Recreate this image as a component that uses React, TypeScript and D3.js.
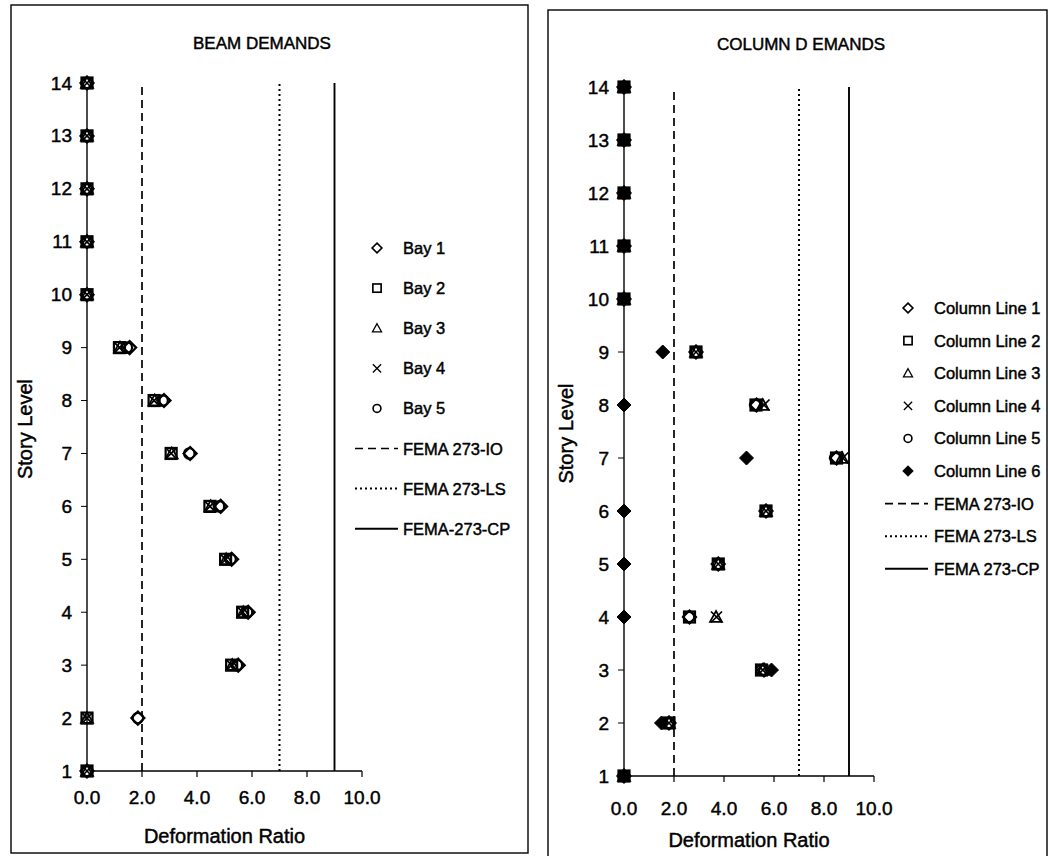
import React from "react";
import * as d3 from "d3";

const stories = [1, 2, 3, 4, 5, 6, 7, 8, 9, 10, 11, 12, 13, 14];
const xTicks = [0, 2, 4, 6, 8, 10];

// Beam demands (deformation ratio per story 1..14)
const bay1 = [0, 1.85, 5.5, 5.86, 5.26, 4.86, 3.75, 2.8, 1.55, 0, 0, 0, 0, 0];
const bay2 = [0, 0, 5.26, 5.66, 5.04, 4.47, 3.06, 2.44, 1.18, 0, 0, 0, 0, 0];
const bay3 = [0, 0, 5.28, 5.68, 5.06, 4.5, 3.08, 2.46, 1.2, 0, 0, 0, 0, 0];
const bay4 = [0, 0, 5.26, 5.66, 5.04, 4.47, 3.06, 2.44, 1.18, 0, 0, 0, 0, 0];
const bay5 = [0, 1.85, 5.45, 5.82, 5.22, 4.8, 3.72, 2.75, 1.45, 0, 0, 0, 0, 0];

// Column demands
const col1 = [0, 1.8, 5.6, 2.62, 3.77, 5.68, 8.5, 5.3, 2.88, 0, 0, 0, 0, 0];
const col2 = [0, 1.8, 5.5, 2.62, 3.77, 5.68, 8.5, 5.28, 2.88, 0, 0, 0, 0, 0];
const col3 = [0, 1.8, 5.55, 3.68, 3.77, 5.68, 8.72, 5.55, 2.88, 0, 0, 0, 0, 0];
const col4 = [0, 1.8, 5.55, 3.7, 3.77, 5.68, 8.75, 5.6, 2.88, 0, 0, 0, 0, 0];
const col5 = [0, 1.8, 5.5, 2.6, 3.77, 5.68, 8.45, 5.25, 2.88, 0, 0, 0, 0, 0];
const col6 = [0, 1.5, 5.9, 0, 0, 0, 4.9, 0, 1.55, 0, 0, 0, 0, 0];

const limitIO = 2;
const limitLS = 7;
const limitCP = 9;

const beamNames = ["Bay 1", "Bay 2", "Bay 3", "Bay 4", "Bay 5"];
const colNames = ["Column Line 1", "Column Line 2", "Column Line 3", "Column Line 4", "Column Line 5", "Column Line 6"];
const limitNamesL = ["FEMA 273-IO", "FEMA 273-LS", "FEMA-273-CP"];
const limitNamesR = ["FEMA 273-IO", "FEMA 273-LS", "FEMA 273-CP"];

const FONT = "'Liberation Sans', Arial, sans-serif";
const TS = 0.45; // text stroke to mimic heavy scanned print

type Shape = "diamond" | "square" | "triangle" | "x" | "circle" | "fdiamond";

function Marker({ shape, x, y, s = 1 }: { shape: Shape; x: number; y: number; s?: number }) {
  const sw = 2.2 * s;
  switch (shape) {
    case "diamond": {
      const r = 6.5 * s;
      return <path d={`M${x},${y - r}L${x + r},${y}L${x},${y + r}L${x - r},${y}Z`} fill="white" stroke="black" strokeWidth={sw} />;
    }
    case "fdiamond": {
      const r = 7 * s;
      return <path d={`M${x},${y - r}L${x + r},${y}L${x},${y + r}L${x - r},${y}Z`} fill="black" stroke="black" strokeWidth={1} />;
    }
    case "square": {
      const h = 5.5 * s;
      return <rect x={x - h} y={y - h} width={2 * h} height={2 * h} fill="none" stroke="black" strokeWidth={sw} />;
    }
    case "triangle": {
      const h = 6 * s;
      return <path d={`M${x},${y - h}L${x + h},${y + h * 0.8}L${x - h},${y + h * 0.8}Z`} fill="none" stroke="black" strokeWidth={sw * 0.8} />;
    }
    case "x": {
      const h = 5.5 * s;
      return <path d={`M${x - h},${y - h}L${x + h},${y + h}M${x - h},${y + h}L${x + h},${y - h}`} stroke="black" strokeWidth={sw * 0.8} />;
    }
    case "circle":
      return <circle cx={x} cy={y} r={5.2 * s} fill="none" stroke="black" strokeWidth={sw} />;
  }
  return null;
}

type Panel = {
  title: string;
  titleX: number;
  titleY: number;
  box: [number, number, number, number];
  xr: [number, number];
  yr: [number, number];
  tickLabelY: number;
  xLabelY: number;
  yLabelX: number;
  series: number[][];
  shapes: Shape[];
  names: string[];
  limitNames: string[];
  legMarkX: number;
  legTextX: number;
  legLine: [number, number];
  legY0: number;
  legDY: number;
  legFont: number;
};

const beamPanel: Panel = {
  title: "BEAM DEMANDS",
  titleX: 262,
  titleY: 43,
  box: [11, 5, 528, 853],
  xr: [87, 362],
  yr: [771, 83],
  tickLabelY: 797,
  xLabelY: 836,
  yLabelX: 25,
  series: [bay1, bay2, bay3, bay4, bay5],
  shapes: ["diamond", "square", "triangle", "x", "circle"],
  names: beamNames,
  limitNames: limitNamesL,
  legMarkX: 377,
  legTextX: 403,
  legLine: [355, 398],
  legY0: 248,
  legDY: 40.1,
  legFont: 16.5,
};

const colPanel: Panel = {
  title: "COLUMN D EMANDS",
  titleX: 801,
  titleY: 44,
  box: [548, 10, 1047, 870],
  xr: [624, 874],
  yr: [776, 87],
  tickLabelY: 808,
  xLabelY: 840,
  yLabelX: 566,
  series: [col1, col2, col3, col4, col5, col6],
  shapes: ["diamond", "square", "triangle", "x", "circle", "fdiamond"],
  names: colNames,
  limitNames: limitNamesR,
  legMarkX: 908,
  legTextX: 934,
  legLine: [885, 928],
  legY0: 308,
  legDY: 32.6,
  legFont: 16.5,
};

function ChartPanel({ p }: { p: Panel }) {
  const x = d3.scaleLinear().domain([0, 10]).range(p.xr);
  const y = d3.scaleLinear().domain([1, 14]).range(p.yr);
  const [bx0, by0, bx1, by1] = p.box;
  const limits = [
    { v: limitIO, dash: "8,5", w: 1.7 },
    { v: limitLS, dash: "2,3", w: 2 },
    { v: limitCP, dash: undefined as string | undefined, w: 1.9 },
  ];
  const nSeries = p.names.length;
  return (
    <g fontFamily={FONT} fill="black">
      <rect x={bx0} y={by0} width={bx1 - bx0} height={by1 - by0} fill="none" stroke="black" strokeWidth={1.4} />
      <g stroke="black" strokeWidth={TS}>
        <text x={p.titleX} y={p.titleY} textAnchor="middle" dominantBaseline="central" fontSize={17}>
          {p.title}
        </text>
      </g>
      {/* limit lines */}
      {limits.map((l, i) => (
        <line key={i} x1={x(l.v)} x2={x(l.v)} y1={y(1)} y2={y(14)} stroke="black" strokeWidth={l.w} strokeDasharray={l.dash} />
      ))}
      {/* axes */}
      <line x1={x(0)} x2={x(0)} y1={y(1)} y2={y(14)} stroke="black" strokeWidth={1.4} />
      <line x1={x(0)} x2={x(10)} y1={y(1)} y2={y(1)} stroke="black" strokeWidth={1.4} />
      {stories.map((s) => (
        <g key={s}>
          <line x1={x(0) - 6} x2={x(0)} y1={y(s)} y2={y(s)} stroke="black" strokeWidth={1} />
          <text x={x(0) - 15} y={y(s)} textAnchor="end" dominantBaseline="central" fontSize={19} stroke="black" strokeWidth={TS}>
            {s}
          </text>
        </g>
      ))}
      {xTicks.map((t) => (
        <g key={t}>
          <line x1={x(t)} x2={x(t)} y1={y(1)} y2={y(1) + 6} stroke="black" strokeWidth={1.2} />
          <text x={x(t)} y={p.tickLabelY} textAnchor="middle" dominantBaseline="central" fontSize={19} stroke="black" strokeWidth={TS}>
            {t.toFixed(1)}
          </text>
        </g>
      ))}
      <text x={(p.xr[0] + p.xr[1]) / 2} y={p.xLabelY} textAnchor="middle" dominantBaseline="central" fontSize={20} stroke="black" strokeWidth={TS}>
        Deformation Ratio
      </text>
      <text
        transform={`translate(${p.yLabelX},${(y(1) + y(14)) / 2 + 2}) rotate(-90)`}
        textAnchor="middle"
        dominantBaseline="central"
        fontSize={20}
        stroke="black"
        strokeWidth={TS}
      >
        Story Level
      </text>
      {/* data markers */}
      {p.series.map((arr, si) => (
        <g key={si}>
          {arr.map((v, i) => (
            <Marker key={i} shape={p.shapes[si]} x={x(v)} y={y(stories[i])} />
          ))}
        </g>
      ))}
      {/* legend */}
      {p.names.map((n, i) => {
        const ly = p.legY0 + i * p.legDY;
        return (
          <g key={n}>
            <Marker shape={p.shapes[i]} x={p.legMarkX} y={ly} s={0.75} />
            <text x={p.legTextX} y={ly} dominantBaseline="central" fontSize={p.legFont} stroke="black" strokeWidth={TS}>
              {n}
            </text>
          </g>
        );
      })}
      {p.limitNames.map((n, i) => {
        const ly = p.legY0 + (nSeries + i) * p.legDY;
        return (
          <g key={n}>
            <line
              x1={p.legLine[0]}
              x2={p.legLine[1]}
              y1={ly}
              y2={ly}
              stroke="black"
              strokeWidth={limits[i].w}
              strokeDasharray={limits[i].dash}
            />
            <text x={p.legTextX} y={ly} dominantBaseline="central" fontSize={p.legFont} stroke="black" strokeWidth={TS}>
              {n}
            </text>
          </g>
        );
      })}
    </g>
  );
}

export default function App() {
  return (
    <svg
      width={1048}
      height={856}
      viewBox="0 0 1048 856"
      style={{ position: "absolute", left: 0, top: 0, background: "white" }}
    >
      <rect x={0} y={0} width={1048} height={856} fill="white" />
      <ChartPanel p={beamPanel} />
      <ChartPanel p={colPanel} />
    </svg>
  );
}
